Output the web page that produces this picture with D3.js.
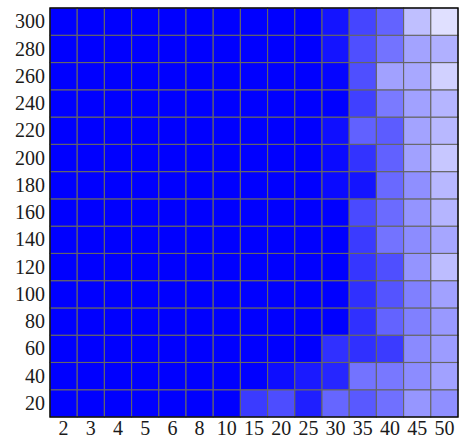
<!DOCTYPE html>
<html>
<head>
<meta charset="utf-8">
<script src="https://cdn.jsdelivr.net/npm/d3@7"></script>
<style>
  html, body { margin: 0; padding: 0; background: #fff; }
  svg { display: block; }
</style>
</head>
<body>
<svg id="chart" width="460" height="439"></svg>
<script>
// Column categories (x) and row categories (y)
const xCategories = ["2","3","4","5","6","8","10","15","20","25","30","35","40","45","50"];
const yCategories = ["20","40","60","80","100","120","140","160","180","200","220","240","260","280","300"];

// Cell values: 0 = full blue, 1 = white. One array per row (y category), columns follow xCategories.
const row20  = [0,0,0,0,0,0,0,0.23,0.30,0.12,0.40,0.35,0.44,0.59,0.56];
const row40  = [0,0,0,0,0,0,0,0,0.05,0.10,0.15,0.45,0.47,0.55,0.63];
const row60  = [0,0,0,0,0,0,0,0,0,0,0.19,0.19,0.23,0.54,0.61];
const row80  = [0,0,0,0,0,0,0,0,0,0,0,0.19,0.39,0.50,0.60];
const row100 = [0,0,0,0,0,0,0,0,0,0,0,0.19,0.33,0.50,0.63];
const row120 = [0,0,0,0,0,0,0,0,0,0,0,0.21,0.31,0.58,0.74];
const row140 = [0,0,0,0,0,0,0,0,0,0,0,0.23,0.45,0.55,0.65];
const row160 = [0,0,0,0,0,0,0,0,0,0,0,0.29,0.42,0.58,0.71];
const row180 = [0,0,0,0,0,0,0,0,0,0,0.04,0.08,0.41,0.56,0.72];
const row200 = [0,0,0,0,0,0,0,0,0,0,0.04,0.20,0.38,0.63,0.78];
const row220 = [0,0,0,0,0,0,0,0,0,0,0.06,0.38,0.36,0.64,0.72];
const row240 = [0,0,0,0,0,0,0,0,0,0,0,0.25,0.48,0.63,0.71];
const row260 = [0,0,0,0,0,0,0,0,0,0,0.02,0.31,0.63,0.66,0.82];
const row280 = [0,0,0,0,0,0,0,0,0,0,0.08,0.31,0.45,0.64,0.69];
const row300 = [0,0,0,0,0,0,0,0,0,0,0.08,0.27,0.39,0.75,0.88];

const rows = [row20,row40,row60,row80,row100,row120,row140,row160,row180,row200,row220,row240,row260,row280,row300];

const cells = [];
rows.forEach((r, yi) => r.forEach((v, xi) => cells.push({x: xCategories[xi], y: yCategories[yi], v})));

const svg = d3.select("#chart");
const mLeft = 50, mRight = 458, mTop = 8, mBottom = 417;
const FONT = "'Liberation Serif', 'DejaVu Serif', serif";
const FSIZE = "20px";

const x = d3.scaleBand().domain(xCategories).range([mLeft, mRight]).padding(0);
const y = d3.scaleBand().domain(yCategories).range([mBottom, mTop]).padding(0);
const color = d3.scaleLinear().domain([0, 1]).range(["#0000ff", "#ffffff"]);

svg.append("g").selectAll("rect").data(cells).join("rect")
  .attr("x", d => x(d.x))
  .attr("y", d => y(d.y))
  .attr("width", x.bandwidth())
  .attr("height", y.bandwidth())
  .attr("fill", d => color(d.v))
  .attr("stroke", "#666666")
  .attr("stroke-width", 1.1);

// frame
svg.append("rect")
  .attr("x", mLeft).attr("y", mTop)
  .attr("width", mRight - mLeft).attr("height", mBottom - mTop)
  .attr("fill", "none").attr("stroke", "#000").attr("stroke-width", 1.3);

// axes (labels only, no tick marks)
const xAxis = d3.axisBottom(x).tickSize(0).tickPadding(0);
const gx = svg.append("g").attr("transform", `translate(0,${mBottom})`).call(xAxis);
gx.select(".domain").remove();
gx.selectAll("text")
  .attr("y", 18)
  .attr("dy", null)
  .style("font-family", FONT)
  .style("font-size", FSIZE)
  .style("fill", "#1a1a1a");

const yAxis = d3.axisLeft(y).tickSize(0).tickPadding(5);
const gy = svg.append("g").attr("transform", `translate(${mLeft},0)`).call(yAxis);
gy.select(".domain").remove();
gy.selectAll("text")
  .attr("dy", "0.33em")
  .style("font-family", FONT)
  .style("font-size", FSIZE)
  .style("fill", "#1a1a1a");
</script>
</body>
</html>
